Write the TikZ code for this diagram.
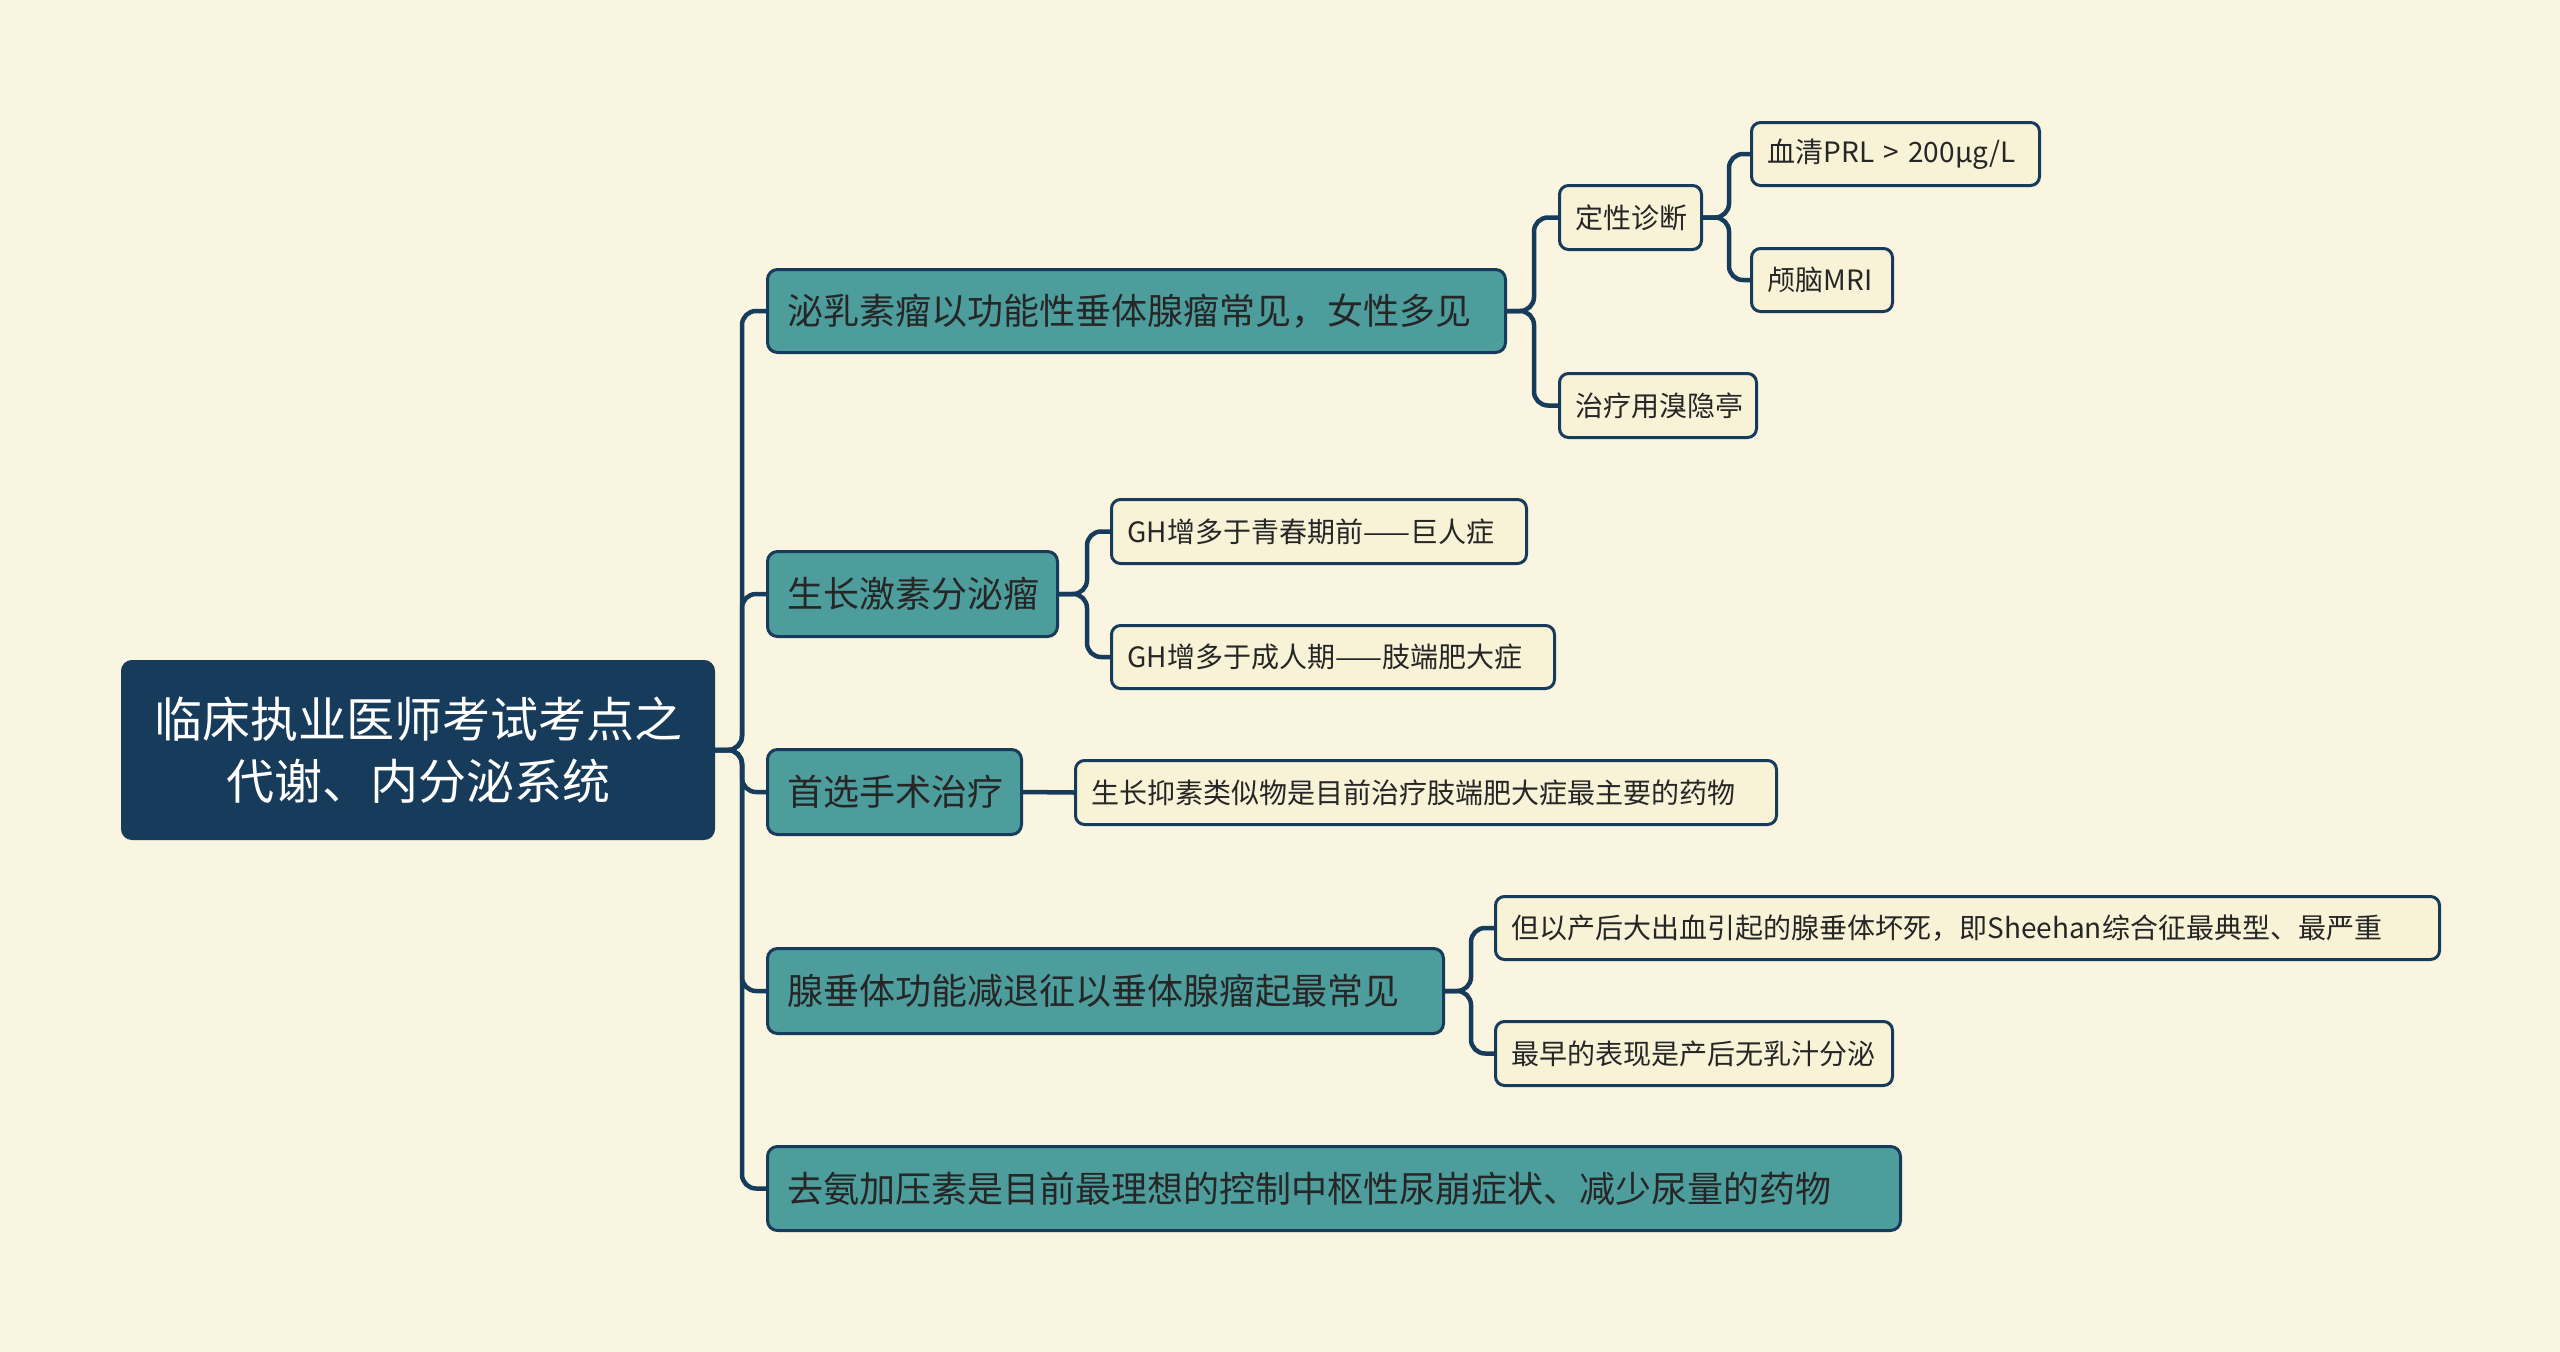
\documentclass[tikz,border=0pt]{standalone}
\usepackage{fontspec}
\setmainfont{Noto Sans CJK SC}
\definecolor{bg}{HTML}{FAF5E0}
\definecolor{navy}{HTML}{173B5A}
\definecolor{tealbox}{HTML}{4D9D9C}
\definecolor{cream}{HTML}{F8F2D6}
\definecolor{txt}{HTML}{262626}
\tikzset{
 rootbox/.style={draw=navy, fill=navy, line width=2pt, rounded corners=10pt, text=white, font=\fontsize{48}{62}\selectfont, align=center, inner sep=0pt, anchor=north west},
 branchbox/.style={draw=navy, fill=tealbox, line width=3pt, rounded corners=10pt, text=txt, font=\fontsize{36}{44}\selectfont, inner ysep=0pt, inner xsep=20pt, align=left, anchor=north west},
 leafbox/.style={draw=navy, fill=cream, line width=3pt, rounded corners=9pt, text=txt, font=\fontsize{28}{34}\selectfont, inner ysep=0pt, inner xsep=16pt, align=left, anchor=north west},
 conn/.style={draw=navy, line width=4.5pt, rounded corners=14pt},
}
\begin{document}
\begin{tikzpicture}[x=1pt,y=-1pt]
\fill[bg] (0,0) rectangle (2560,1352);
\useasboundingbox (0,0) rectangle (2560,1352);
% nodes
\node[rootbox, minimum width=592pt, minimum height=178pt] (root) at (121,660) {临床执业医师考试考点之\\代谢、内分泌系统};
\node[branchbox, text width=698pt, minimum height=83pt] (b1) at (766,268) {泌乳素瘤以功能性垂体腺瘤常见，女性多见};
\node[branchbox, text width=250pt, minimum height=85pt] (b2) at (766,550) {生长激素分泌瘤};
\node[branchbox, text width=214pt, minimum height=85pt] (b3) at (766,748) {首选手术治疗};
\node[branchbox, text width=636pt, minimum height=85pt] (b4) at (766,947) {腺垂体功能减退征以垂体腺瘤起最常见};
\node[branchbox, text width=1093pt, minimum height=84pt] (b5) at (766,1145) {去氨加压素是目前最理想的控制中枢性尿崩症状、减少尿量的药物};
\node[leafbox, text width=110pt, minimum height=64pt] (l11) at (1558,184) {定性诊断};
\node[leafbox, text width=165pt, minimum height=64pt] (l12) at (1558,372) {治疗用溴隐亭};
\node[leafbox, text width=256pt, minimum height=63pt] (l111) at (1750,121) {血清PRL > 200μg/L};
\node[leafbox, text width=109pt, minimum height=63pt] (l112) at (1750,247) {颅脑MRI};
\node[leafbox, text width=383pt, minimum height=64pt] (l21) at (1110,498) {GH增多于青春期前——巨人症};
\node[leafbox, text width=411pt, minimum height=63pt] (l22) at (1110,624) {GH增多于成人期——肢端肥大症};
\node[leafbox, text width=669pt, minimum height=64pt] (l31) at (1074,759) {生长抑素类似物是目前治疗肢端肥大症最主要的药物};
\node[leafbox, text width=912pt, minimum height=63pt] (l41) at (1494,895) {但以产后大出血引起的腺垂体坏死，即Sheehan综合征最典型、最严重};
\node[leafbox, text width=365pt, minimum height=64pt] (l42) at (1494,1020) {最早的表现是产后无乳汁分泌};
% junctions
\coordinate (t0) at ([xshift=27pt]root.east);
\coordinate (t1) at ([xshift=27pt]b1.east);
\coordinate (t11) at ([xshift=26pt]l11.east);
\coordinate (t2) at ([xshift=28pt]b2.east);
\coordinate (t4) at ([xshift=26pt]b4.east);
% connectors
\draw[conn] (root.east) -- (t0) |- (b1.west);
\draw[conn] (root.east) -- (t0) |- (b2.west);
\draw[conn] (root.east) -- (t0) |- (b3.west);
\draw[conn] (root.east) -- (t0) |- (b4.west);
\draw[conn] (root.east) -- (t0) |- (b5.west);
\draw[conn] (b1.east) -- (t1) |- (l11.west);
\draw[conn] (b1.east) -- (t1) |- (l12.west);
\draw[conn] (l11.east) -- (t11) |- (l111.west);
\draw[conn] (l11.east) -- (t11) |- (l112.west);
\draw[conn] (b2.east) -- (t2) |- (l21.west);
\draw[conn] (b2.east) -- (t2) |- (l22.west);
\draw[conn] (b3.east) -- (l31.west);
\draw[conn] (b4.east) -- (t4) |- (l41.west);
\draw[conn] (b4.east) -- (t4) |- (l42.west);
\end{tikzpicture}
\end{document}
